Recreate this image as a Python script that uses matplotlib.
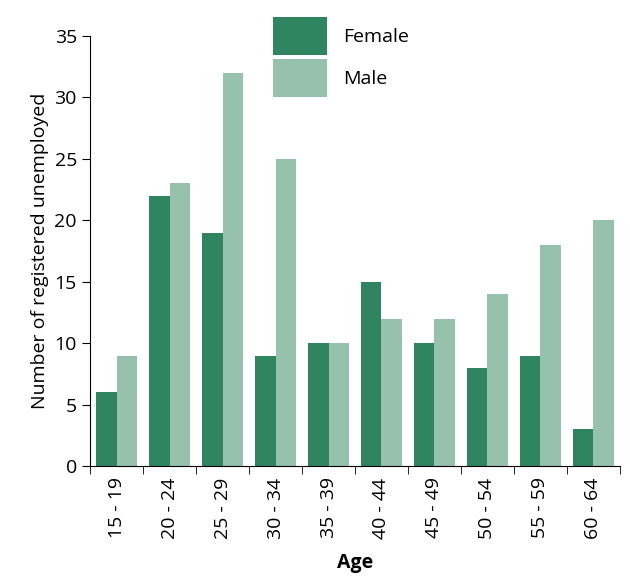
import matplotlib.pyplot as plt
import numpy as np

ages = ['15 - 19', '20 - 24', '25 - 29', '30 - 34', '35 - 39',
        '40 - 44', '45 - 49', '50 - 54', '55 - 59', '60 - 64']
female = [6, 22, 19, 9, 10, 15, 10, 8, 9, 3]
male = [9, 23, 32, 25, 10, 12, 12, 14, 18, 20]

plt.rcParams['font.family'] = ['Open Sans', 'DejaVu Sans']

fig = plt.figure(figsize=(6.3, 5.88), dpi=100)
ax = fig.add_axes([0.143, 0.207, 0.841, 0.732])

x = np.arange(len(ages))
w = 0.38
ax.bar(x - w / 2, female, w, color='#2e8560', label='Female')
ax.bar(x + w / 2, male, w, color='#96c2ad', label='Male')

ax.set_xlim(-0.5, len(ages) - 0.5)
ax.set_ylim(0, 35)
ax.set_yticks(range(0, 36, 5))
ax.set_xticks(x)
ax.set_xticklabels(ages, rotation=90, fontsize=14)
ax.set_xticks(np.arange(-0.5, len(ages), 1), minor=True)
ax.tick_params(axis='x', which='major', length=0, pad=8)
ax.tick_params(axis='x', which='minor', length=6, direction='out')
ax.tick_params(axis='y', labelsize=14, length=6)
for s in ['top', 'right']:
    ax.spines[s].set_visible(False)
ax.set_ylabel('Number of registered unemployed', fontsize=14)
ax.set_xlabel('Age', fontsize=14, fontweight='bold', labelpad=10)

fig.legend(loc='upper left', bbox_to_anchor=(0.405, 1.0), frameon=False,
           fontsize=14, handlelength=2.8, handleheight=2.6, labelspacing=0.2,
           handletextpad=0.8)

fig.savefig('out.png')
